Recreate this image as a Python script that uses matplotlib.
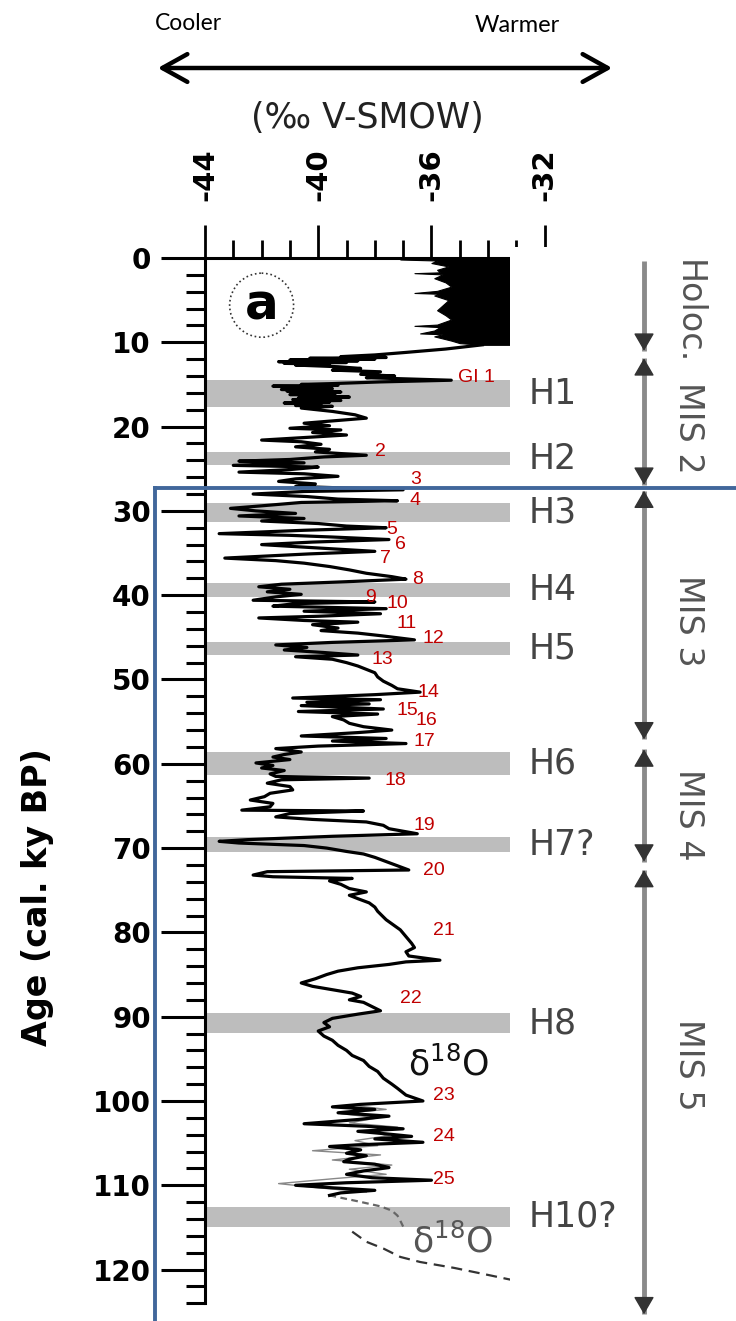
import matplotlib
matplotlib.use("Agg")
import matplotlib.pyplot as plt
from matplotlib.patches import Rectangle, Ellipse, FancyArrowPatch
from matplotlib.ticker import MultipleLocator, FixedLocator

# Holocene part of the record: dense band, left envelope only (right side runs off the panel)
holo_age = [0.0, 0.12, 0.18, 0.3, 0.6, 1.0, 1.4, 1.7, 1.8, 1.95, 2.4, 2.9, 3.4, 3.9, 4.15, 4.25,
            4.45, 5.0, 5.6, 6.2, 6.8, 7.3, 7.9, 8.05, 8.2, 8.6, 8.95, 9.05, 9.3, 9.8, 10.1, 10.3]
holo_left = [-36.3, -36.3, -37.1, -35.8, -36.0, -35.4, -35.8, -35.7, -36.6, -35.6, -35.9, -35.5, -35.3,
             -35.8, -36.6, -35.7, -35.9, -35.4, -35.6, -35.8, -35.5, -35.3, -35.8, -36.6, -35.7, -35.9,
             -36.4, -35.6, -35.9, -35.3, -35.0, -34.2]

# d18O record (age ky BP, per mil V-SMOW)
rec_age = [
    10.3, 10.8, 11.2, 11.5, 11.7, 11.8, 11.9, 12.0, 12.1, 12.2,
    12.3, 12.4, 12.5, 12.6, 12.7, 12.9, 13.1, 13.3, 13.5, 13.8,
    14.0, 14.2, 14.5, 14.7, 14.9, 15.0, 15.1, 15.2, 15.3, 15.4,
    15.5, 15.6, 15.7, 15.8, 15.9, 16.0, 16.1, 16.2, 16.3, 16.4,
    16.5, 16.6, 16.7, 16.8, 16.9, 17.0, 17.1, 17.2, 17.3, 17.5,
    17.6, 17.8, 18.2, 18.6, 19.0, 19.3, 19.6, 19.9, 20.2,
    20.4, 20.7, 21.0, 21.3, 21.6, 21.8, 22.1, 22.4, 22.7, 23.0,
    23.4, 23.6, 23.9, 24.1, 24.3, 24.6, 24.8, 25.1, 25.4, 25.6,
    25.9, 26.2, 26.5, 26.8, 27.1, 27.5, 27.7, 28.0, 28.3, 28.6,
    28.8, 29.0, 29.4, 29.7, 30.0, 30.3, 30.6, 30.9, 31.2, 31.5,
    31.8, 32.0, 32.3, 32.7, 32.9, 33.1, 33.4, 33.7, 34.0, 34.3,
    34.6, 34.8, 35.1, 35.6, 35.9, 36.2, 36.6, 37.0, 37.4, 37.8,
    38.1, 38.4, 38.7, 39.0, 39.3, 39.6, 39.9, 40.2, 40.6, 40.8,
    41.0, 41.3, 41.6, 41.9, 42.2, 42.5, 42.7, 43.0, 43.2, 43.5,
    43.9, 44.2, 44.5, 44.8, 45.3, 45.6, 45.9, 46.2, 46.5, 46.8,
    47.1, 47.3, 47.6, 48.0, 48.4, 48.8, 49.2, 49.7, 50.2, 50.7,
    51.1, 51.5, 51.8, 52.2, 52.4, 52.7, 52.9, 53.1, 53.5, 53.8,
    54.1, 54.4, 54.8, 55.2, 55.6, 56.0, 56.3, 56.7, 57.0, 57.3,
    57.6, 57.9, 58.2, 58.6, 58.9, 59.2, 59.5, 59.9, 60.2, 60.5,
    60.8, 61.2, 61.5, 61.7, 61.9, 62.3, 62.7, 63.1, 63.5, 63.9,
    64.3, 64.7, 65.1, 65.5, 65.6, 65.9, 66.3, 66.6, 66.9, 67.3,
    67.7, 68.0, 68.3, 68.6, 69.0, 69.2, 69.4, 69.7, 70.0, 70.4,
    70.7, 71.1, 71.6, 72.1, 72.6, 72.8, 73.2, 73.4, 73.6, 73.9,
    74.3, 74.8, 75.2, 75.6, 76.0, 76.5, 77.0, 77.5, 78.5, 79.7,
    80.5, 81.3, 81.8, 82.3, 82.8, 83.3, 83.5, 83.8, 84.2, 84.6,
    85.0, 85.5, 86.0, 86.4, 86.8, 87.2, 87.6, 88.0, 88.3, 88.8,
    89.3, 89.7, 90.2, 90.7, 91.2, 91.7, 92.3, 92.8, 93.4, 94.0,
    94.6, 95.2, 95.9, 96.5, 97.3, 98.0, 98.5, 99.3, 100.0, 100.4,
    100.7, 101.0, 101.4, 101.8, 102.2, 102.7, 103.0, 103.3, 103.6, 103.9,
    104.2, 104.5, 104.9, 105.2, 105.4, 105.8, 106.2, 106.5, 106.9, 107.2,
    107.5, 107.9, 108.3, 108.7, 109.1, 109.4, 109.7, 110.0, 110.3, 110.6,
    110.9, 111.2]
rec_val = [
    -34.2, -35.5, -36.9, -38.0, -39.2, -37.6, -40.3, -38.0, -41.0, -38.6,
    -41.4, -39.0, -41.2, -39.6, -40.8, -39.3, -38.5, -39.5, -37.8, -38.5,
    -37.3, -38.3, -35.3, -37.8, -39.5, -40.6, -39.3, -41.6, -39.8, -41.0,
    -39.5, -41.3, -40.0, -41.1, -39.2, -40.9, -39.6, -41.0, -39.4, -40.6,
    -38.9, -40.7, -39.5, -40.9, -39.2, -40.8, -39.6, -41.2, -39.9, -40.8,
    -39.5, -40.6, -39.5, -38.7, -38.3, -39.4, -40.5, -39.6, -41.0,
    -39.2, -40.2, -39.0, -40.5, -42.0, -40.6, -39.9, -40.8, -39.6, -40.1,
    -38.3, -39.8, -41.0, -42.8, -40.5, -43.0, -40.0, -41.0, -42.8, -40.5,
    -39.3, -40.8, -41.4, -40.1, -40.8, -37.0, -40.5, -42.3, -40.4, -39.3,
    -37.2, -40.6, -42.0, -43.1, -42.2, -40.8, -42.8, -40.5, -42.0, -40.0,
    -39.0, -37.6, -40.5, -43.5, -41.0, -39.5, -37.5, -40.2, -42.0, -40.5,
    -39.0, -38.0, -40.3, -43.3, -41.5, -40.5, -39.6, -38.9, -38.3, -37.4,
    -36.9, -39.0, -41.3, -42.1, -41.0, -41.8, -40.6, -41.5, -42.3, -38.0,
    -40.8, -41.6, -37.6, -40.5, -37.8, -40.0, -42.1, -40.5, -38.6, -40.2,
    -39.3, -39.9, -38.6, -37.8, -36.6, -39.5, -41.5, -40.4, -41.2, -39.8,
    -38.6, -40.8, -39.5, -39.0, -38.6, -38.3, -38.0, -37.9, -37.7, -37.4,
    -37.2, -36.4, -38.0, -40.9, -37.8, -40.4, -38.2, -40.6, -37.7, -40.7,
    -37.9, -39.5, -39.1, -38.9, -38.4, -37.4, -38.6, -40.6, -37.6, -39.5,
    -36.9, -40.0, -41.5, -40.6, -41.2, -41.6, -41.0, -42.2, -41.6, -42.0,
    -41.2, -41.7, -41.5, -38.2, -41.3, -41.8, -41.0, -40.9, -41.7, -41.9,
    -42.4, -41.6, -41.7, -42.7, -38.4, -41.0, -41.5, -40.2, -38.3, -37.7,
    -37.5, -37.0, -36.5, -39.5, -42.5, -43.5, -42.8, -40.5, -39.7, -39.0,
    -38.4, -38.0, -37.6, -37.2, -36.8, -41.8, -42.3, -41.6, -38.8, -39.6,
    -39.2, -38.9, -38.3, -38.9, -38.6, -38.2, -38.0, -37.9, -37.6, -37.1,
    -36.9, -36.7, -36.6, -36.9, -36.8, -35.7, -36.9, -37.5, -38.6, -39.3,
    -39.7, -40.1, -40.6, -40.2, -39.5, -38.8, -38.5, -38.9, -38.4, -38.1,
    -37.8, -38.6, -39.5, -39.8, -39.6, -40.0, -39.8, -39.5, -39.3, -39.0,
    -38.8, -38.4, -38.2, -37.9, -37.7, -37.4, -37.2, -36.9, -36.3, -38.5,
    -39.5, -38.0, -39.3, -37.5, -38.6, -40.5, -38.3, -37.0, -38.6, -37.6,
    -36.7, -38.0, -36.3, -38.6, -39.6, -38.5, -39.0, -38.3, -38.9, -39.1,
    -38.0, -37.5, -38.4, -39.0, -38.1, -36.0, -39.0, -40.8, -39.5, -38.0,
    -39.2, -39.6]

# second (grey) core in the MIS 5d part
grey_age = [100.5, 101.0, 101.5, 102.0, 102.6, 103.1, 103.6, 104.1, 104.7, 105.3,
            105.9, 106.4, 107.0, 107.6, 108.1, 108.7, 109.2, 109.8, 110.3, 110.8]
grey_val = [-38.8, -37.6, -39.2, -37.9, -38.9, -37.2, -38.3, -37.5, -38.7, -37.9,
            -40.2, -37.8, -39.5, -37.4, -38.9, -37.6, -39.4, -41.4, -40.0, -38.3]

# dashed end of the ice record and the marine d18O curve
tail_age = [111.2, 111.9, 112.5, 113.0, 113.6, 114.2, 114.9]
tail_val = [-39.6, -38.6, -37.8, -37.4, -37.2, -37.1, -37.0]
marine_age = [115.5, 116.7, 117.5, 118.5, 119.1, 119.8, 120.6, 121.2]
marine_val = [-38.8, -38.3, -37.7, -37.1, -36.4, -35.2, -34.05, -33.2]

# Heinrich events (age ranges)
h_names = ["H1", "H2", "H3", "H4", "H5", "H6", "H7?", "H8", "H10?"]
h_top = [14.5, 23.0, 29.1, 38.5, 45.5, 58.6, 68.7, 89.6, 112.6]
h_bot = [17.7, 24.6, 31.3, 40.2, 47.1, 61.3, 70.5, 91.9, 114.9]

# interstadial numbers (red)
gi_labels = ["GI 1", "2", "3", "4", "5", "6", "7", "8", "9", "10", "11", "12", "13",
             "14", "15", "16", "17", "18", "19", "20", "21", "22", "23", "24", "25"]
gi_age = [14.2, 22.9, 26.3, 28.8, 32.2, 34.0, 35.6, 38.1, 40.3, 41.0, 43.4, 45.1, 47.6,
          51.5, 53.7, 54.9, 57.4, 62.0, 67.3, 72.6, 79.8, 87.8, 99.4, 104.2, 109.3]
gi_x = [-35.06, -37.99, -36.76, -36.76, -37.60, -37.29, -37.82, -36.69, -38.35, -37.60,
        -37.25, -36.30, -38.10, -36.51, -37.25, -36.58, -36.65, -37.67, -36.65, -36.30,
        -35.94, -37.11, -35.94, -35.94, -35.94]

# marine isotope stages
mis_names = ["Holoc.", "MIS 2", "MIS 3", "MIS 4", "MIS 5"]
mis_start = [0.4, 11.9, 27.6, 58.3, 72.6]
mis_end = [11.0, 26.9, 57.1, 71.6, 125.3]
mis_mid = [6.4, 20.2, 43.0, 66.0, 95.7]

fig = plt.figure(figsize=(7.36, 13.21), dpi=100)
ax = fig.add_axes([205 / 736, 0.0134, 531 / 736, 0.7913])
ax.set_xlim(-44, -25.24)
ax.set_ylim(124, 0)

for a, b in zip(h_top, h_bot):
    ax.axhspan(a, b, color="#bdbdbd", lw=0, zorder=1)

ax.fill_betweenx(holo_age, holo_left, -33.0, color="black", lw=0.8, zorder=2)
ax.plot(grey_val, grey_age, color="#888888", lw=1.0, zorder=2)
ax.plot(rec_val, rec_age, color="black", lw=2.3, zorder=2.2)
ax.plot(tail_val, tail_age, color="#666666", lw=1.6, ls=(0, (3, 2)), zorder=2)
ax.plot(marine_val, marine_age, color="#333333", lw=1.6, ls=(0, (5, 3)), zorder=2)

# white panel covering the right end of the record (as in the source figure)
ax.add_patch(Rectangle((-33.22, -1.3), 10, 130, facecolor="white", edgecolor="none",
                       zorder=3, clip_on=False))

# axes styling
for side in ["right", "bottom"]:
    ax.spines[side].set_visible(False)
ax.spines["left"].set_linewidth(2.2)
ax.spines["top"].set_linewidth(2.2)
ax.spines["top"].set_bounds(-44, -33.22)

ax.set_xticks([-44, -40, -36, -32])
ax.set_xticklabels(["-44", "-40", "-36", "-32"])
ax.xaxis.set_minor_locator(FixedLocator(list(range(-43, -32))))
ax.tick_params(axis="x", which="both", top=True, bottom=False, labeltop=True,
               labelbottom=False, labelrotation=90, width=2.0)
ax.tick_params(axis="x", which="major", length=24, pad=17, labelsize=21)
ax.tick_params(axis="x", which="minor", length=13)
for lab in ax.get_xticklabels():
    lab.set_fontweight("bold")

ax.set_yticks(range(0, 121, 10))
ax.yaxis.set_minor_locator(MultipleLocator(2))
ax.tick_params(axis="y", which="major", length=32, width=2.2, pad=7, labelsize=20)
ax.tick_params(axis="y", which="minor", length=14, width=2.2)
for lab in ax.get_yticklabels():
    lab.set_fontweight("bold")
ax.set_facecolor("none")

# circled panel letter
ax.add_patch(Ellipse((-42.0, 5.6), 2.26, 7.6, fill=False, ls=":", lw=1.2, ec="#333333"))
ax.text(-42.0, 7.35, "a", fontsize=36, fontweight="bold", ha="center", va="baseline")

# event labels
for name, a, b in zip(h_names, h_top, h_bot):
    ax.text(-32.55, (a + b) / 2, name, fontsize=25, color="#444444", ha="left",
            va="center", zorder=5, clip_on=False)
for lab, a, x in zip(gi_labels, gi_age, gi_x):
    ax.text(x, a, lab, fontsize=14, color="#c00000", family="Liberation Sans",
            ha="left", va="center", zorder=5)

ax.text(-36.83, 95.7, "δ$^{18}$O", fontsize=25, color="#111111", ha="left", va="center", zorder=4)
ax.text(-36.69, 116.6, "δ$^{18}$O", fontsize=25, color="#555555", ha="left", va="center", zorder=4)

# MIS arrows
mis_x = -28.49
head = dict(arrowstyle="-|>,head_length=0.55,head_width=0.32", mutation_scale=20,
            color="#333333", lw=1, shrinkA=0, shrinkB=0)
for name, s, e, m in zip(mis_names, mis_start, mis_end, mis_mid):
    ax.plot([mis_x, mis_x], [s, e], color="#8a8a8a", lw=3.5, zorder=4,
            clip_on=False, solid_capstyle="butt")
    ax.annotate("", xy=(mis_x, e), xytext=(mis_x, e - 1.5), arrowprops=head,
                zorder=5, annotation_clip=False)
    if s > 1:
        ax.annotate("", xy=(mis_x, s), xytext=(mis_x, s + 1.5), arrowprops=head,
                    zorder=5, annotation_clip=False)
    ax.text(-26.93, m, name, fontsize=24, color="#555555", rotation=270,
            ha="center", va="center", zorder=5, clip_on=False)

# blue frame
frame = "#41679b"
ax.plot([-45.77, -45.77], [27.28, 127], color=frame, lw=2.8, zorder=6, clip_on=False)
ax.plot([-45.77, -25.0], [27.28, 27.28], color=frame, lw=2.8, zorder=6, clip_on=False)

# texts outside the axes
fig.text(367 / 736, 1 - 118 / 1321, "(‰ V-SMOW)", fontsize=25, color="#222222",
         ha="center", va="center")
fig.text(38 / 736, 1 - 897 / 1321, "Age (cal. ky BP)", fontsize=24, fontweight="bold",
         rotation=90, ha="center", va="center")
fig.text(155 / 736, 1 - 23 / 1321, "Cooler", fontsize=16.5, family="Lato", ha="left", va="center")
fig.text(475 / 736, 1 - 26 / 1321, "Warmer", fontsize=17, family="Lato", ha="left", va="center")
fig.add_artist(FancyArrowPatch((155 / 736, 1 - 68 / 1321), (615 / 736, 1 - 68 / 1321),
                               transform=fig.transFigure,
                               arrowstyle="<->,head_length=0.45,head_width=0.25",
                               mutation_scale=40, lw=3.2, color="black"))

fig.savefig("out.png", dpi=100)
